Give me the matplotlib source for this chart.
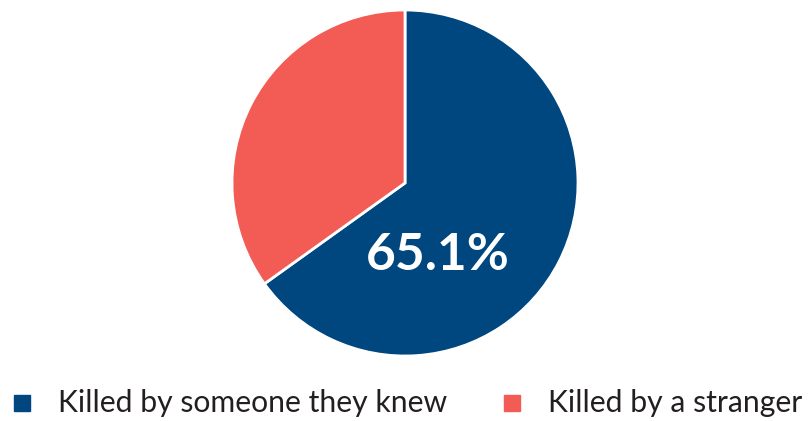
import matplotlib.pyplot as plt

labels = ['Killed by someone they knew', 'Killed by a stranger']
values = [65.1, 34.9]
colors = ['#00467F', '#F25C54']

plt.rcParams['font.family'] = ['Lato', 'DejaVu Sans']

fig = plt.figure(figsize=(8.11, 4.21), dpi=100)
ax = fig.add_axes([(405 - 173) / 811, (421 - 183 - 173) / 421, 346 / 811, 346 / 421])
ax.pie(values, colors=colors, startangle=90, counterclock=False,
       wedgeprops=dict(edgecolor='white', linewidth=2))
ax.set_xlim(-1, 1)
ax.set_ylim(-1, 1)
ax.text(0.19, -0.42, f'{values[0]}%', color='white', fontsize=37,
        ha='center', va='center', fontweight='bold')

# legend drawn by hand so the spacing matches
leg_y = 1 - 403 / 421
marker_x = [22 / 811, 512 / 811]
text_x = [58 / 811, 548 / 811]
for lab, c, mx, tx in zip(labels, colors, marker_x, text_x):
    fig.lines.append(plt.Line2D([mx], [leg_y], transform=fig.transFigure,
                                marker='s', markersize=11, linestyle='none',
                                color=c))
    fig.text(tx, leg_y, lab, fontsize=21.7, color='#231F20',
             ha='left', va='center')

fig.savefig('out.png', dpi=100)
